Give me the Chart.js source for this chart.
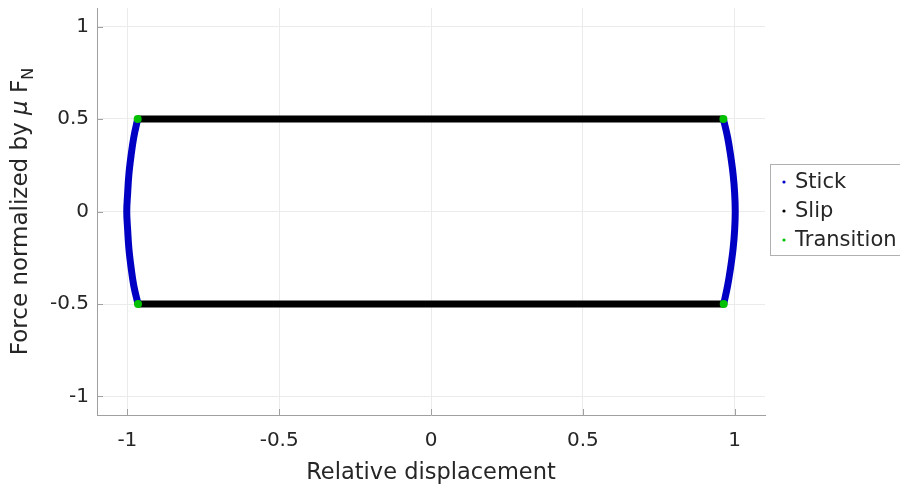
<!DOCTYPE html>
<html>
<head>
<meta charset="utf-8">
<script src="https://cdn.jsdelivr.net/npm/chart.js@4.4.0/dist/chart.umd.min.js"></script>
<style>
    html, body { margin: 0; padding: 0; background: #fff; }
</style>
</head>
<body>
<canvas id="hysteresisChart" width="900" height="488"></canvas>
<script>
// Tick labels
const xTicks = [-1, -0.5, 0, 0.5, 1];
const yTicks = [-1, -0.5, 0, 0.5, 1];

// Stick phase (blue curves at both ends)
const stickY = [0.5, 0.4, 0.3, 0.2, 0.1, 0, -0.1, -0.2, -0.3, -0.4, -0.5];
const stickLeftX = [-0.966, -0.979, -0.988, -0.995, -0.999, -1.002, -0.999, -0.995, -0.988, -0.979, -0.965];
const stickRightX = [0.963, 0.977, 0.987, 0.995, 1.0, 1.002, 1.0, 0.995, 0.987, 0.977, 0.964];

// Slip phase (black horizontal lines)
const slipTopX = [-0.966, 0.963];
const slipTopY = [0.5, 0.5];
const slipBottomX = [-0.965, 0.964];
const slipBottomY = [-0.5, -0.5];

// Transition points (green)
const transitionX = [-0.966, 0.963, -0.965, 0.964];
const transitionY = [0.5, 0.5, -0.5, -0.5];

const legendNames = ['Stick', 'Slip', 'Transition'];
const seriesColors = ['#0000c4', '#000000', '#00c000'];

const FONT = '"DejaVu Sans", sans-serif';
const TEXT_COLOR = '#262626';

const toPoints = (xs, ys) => xs.map((x, i) => ({ x: x, y: ys[i] }));
const gap = { x: null, y: null };

const stickData = [...toPoints(stickLeftX, stickY), gap, ...toPoints(stickRightX, stickY)];
const slipData = [...toPoints(slipTopX, slipTopY), gap, ...toPoints(slipBottomX, slipBottomY)];
const transitionData = toPoints(transitionX, transitionY);

// Inward tick marks + axis titles + boxed legend
const decorPlugin = {
    id: 'decor',
    afterDraw: (chart) => {
        const ctx = chart.ctx;
        const xs = chart.scales.x;
        const ys = chart.scales.y;
        const area = chart.chartArea;

        ctx.save();
        ctx.strokeStyle = '#a0a0a0';
        ctx.lineWidth = 1;
        xTicks.forEach(v => {
            const px = Math.round(xs.getPixelForValue(v)) + 0.5;
            ctx.beginPath();
            ctx.moveTo(px, area.bottom);
            ctx.lineTo(px, area.bottom - 6);
            ctx.stroke();
        });
        yTicks.forEach(v => {
            const py = Math.round(ys.getPixelForValue(v)) + 0.5;
            ctx.beginPath();
            ctx.moveTo(area.left, py);
            ctx.lineTo(area.left + 6, py);
            ctx.stroke();
        });

        // x title
        ctx.fillStyle = TEXT_COLOR;
        ctx.font = '22.5px ' + FONT;
        ctx.textAlign = 'center';
        ctx.textBaseline = 'alphabetic';
        ctx.fillText('Relative displacement', (area.left + area.right) / 2, 479);

        // y title with italic mu and subscript N
        const mainFont = '23px ' + FONT;
        const muFont = 'italic 23px ' + FONT;
        const subFont = '16px ' + FONT;
        const parts = [
            { t: 'Force normalized by ', f: mainFont, dy: 0 },
            { t: 'μ', f: muFont, dy: 0 },
            { t: ' F', f: mainFont, dy: 0 },
            { t: 'N', f: subFont, dy: 6 }
        ];
        let total = 0;
        parts.forEach(p => { ctx.font = p.f; p.w = ctx.measureText(p.t).width; total += p.w; });
        ctx.translate(27, (area.top + area.bottom) / 2);
        ctx.rotate(-Math.PI / 2);
        ctx.textAlign = 'left';
        let cx = -total / 2;
        parts.forEach(p => {
            ctx.font = p.f;
            ctx.fillText(p.t, cx, p.dy);
            cx += p.w;
        });
        ctx.restore();

        // legend box
        ctx.save();
        ctx.fillStyle = '#ffffff';
        ctx.fillRect(770, 164, 140, 91);
        ctx.strokeStyle = '#b0b0b0';
        ctx.lineWidth = 1;
        ctx.strokeRect(770.5, 164.5, 140, 91);
        ctx.font = '21px ' + FONT;
        ctx.textAlign = 'left';
        ctx.textBaseline = 'middle';
        legendNames.forEach((name, i) => {
            const y = 182 + i * 29;
            ctx.fillStyle = seriesColors[i];
            ctx.beginPath();
            ctx.arc(784, y, 1.6, 0, Math.PI * 2);
            ctx.fill();
            ctx.fillStyle = TEXT_COLOR;
            ctx.fillText(name, 795, y + 1);
        });
        ctx.restore();
    }
};

const ctx = document.getElementById('hysteresisChart').getContext('2d');

new Chart(ctx, {
    type: 'scatter',
    data: {
        datasets: [
            {
                label: legendNames[2],
                data: transitionData,
                showLine: false,
                pointRadius: 4,
                pointBackgroundColor: seriesColors[2],
                pointBorderWidth: 0,
                order: 0
            },
            {
                label: legendNames[0],
                data: stickData,
                showLine: true,
                spanGaps: false,
                tension: 0.4,
                borderColor: seriesColors[0],
                borderWidth: 7,
                pointRadius: 0,
                order: 1
            },
            {
                label: legendNames[1],
                data: slipData,
                showLine: true,
                spanGaps: false,
                borderColor: seriesColors[1],
                borderWidth: 7,
                pointRadius: 0,
                order: 2
            }
        ]
    },
    options: {
        responsive: false,
        animation: false,
        devicePixelRatio: 1,
        layout: {
            padding: { top: 8, right: 135, left: 0, bottom: 0 }
        },
        plugins: {
            legend: { display: false },
            tooltip: { enabled: false }
        },
        scales: {
            x: {
                type: 'linear',
                min: -1.1,
                max: 1.1,
                afterFit: (axis) => {
                    axis.height = 73;
                    axis.paddingLeft = 0;
                    axis.paddingRight = 0;
                },
                afterBuildTicks: (axis) => { axis.ticks = xTicks.map(v => ({ value: v })); },
                grid: {
                    color: '#ebebeb',
                    drawTicks: false
                },
                border: { display: true, color: '#a0a0a0' },
                ticks: {
                    color: TEXT_COLOR,
                    font: { family: FONT, size: 20 },
                    padding: 14,
                    maxRotation: 0,
                    callback: (v) => String(v)
                }
            },
            y: {
                type: 'linear',
                min: -1.1,
                max: 1.1,
                afterFit: (axis) => {
                    axis.width = 97;
                    axis.paddingTop = 0;
                    axis.paddingBottom = 0;
                },
                afterBuildTicks: (axis) => { axis.ticks = yTicks.map(v => ({ value: v })); },
                grid: {
                    color: '#ebebeb',
                    drawTicks: false
                },
                border: { display: true, color: '#a0a0a0' },
                ticks: {
                    color: TEXT_COLOR,
                    font: { family: FONT, size: 20 },
                    padding: 8,
                    callback: (v) => String(v)
                }
            }
        }
    },
    plugins: [decorPlugin]
});
</script>
</body>
</html>
